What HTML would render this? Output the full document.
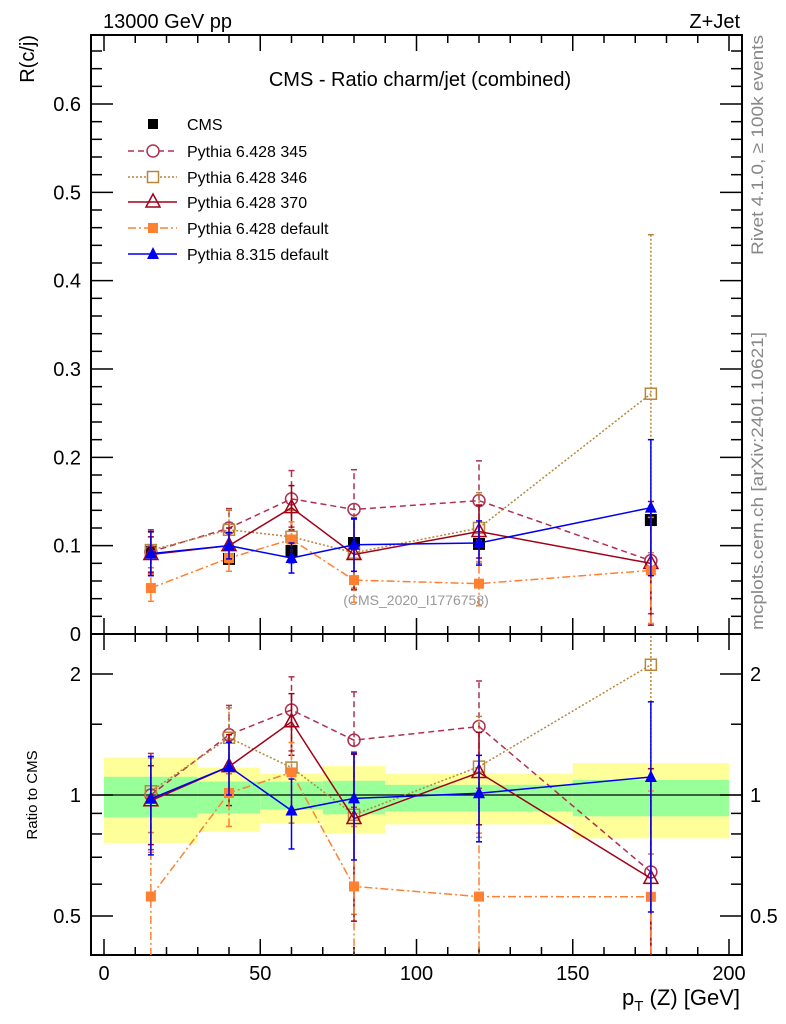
<!DOCTYPE html>
<html><head><meta charset="utf-8"><style>
html,body{margin:0;padding:0;background:#fff;width:786px;height:1024px;overflow:hidden}
svg{display:block;font-family:"Liberation Sans",sans-serif}
</style></head><body>
<svg id="c" width="786" height="1024" viewBox="0 0 786 1024" xmlns="http://www.w3.org/2000/svg">
<defs>
<clipPath id="cu"><rect x="91" y="35" width="651" height="599"/></clipPath>
<clipPath id="cr"><rect x="91" y="634" width="651" height="321"/></clipPath>
</defs>
<g id="bands" clip-path="url(#cr)"></g>
<g id="axes"></g>
<g id="series"></g>
<text x="103" y="28" font-size="20">13000 GeV pp</text>
<text x="740" y="28" font-size="20" text-anchor="end">Z+Jet</text>
<text x="420" y="86" font-size="20" text-anchor="middle">CMS - Ratio charm/jet (combined)</text>
<text x="416" y="605" font-size="14" fill="#999" text-anchor="middle">(CMS_2020_I1776758)</text>
<text transform="translate(34,35) rotate(-90)" font-size="20" text-anchor="end">R(c/j)</text>
<text transform="translate(37,795) rotate(-90)" font-size="15" text-anchor="middle">Ratio to CMS</text>
<text transform="translate(763,35) rotate(-90)" font-size="17" fill="#888" text-anchor="end" textLength="220" lengthAdjust="spacingAndGlyphs">Rivet 4.1.0, ≥ 100k events</text>
<text transform="translate(763,630) rotate(-90)" font-size="17" fill="#888" text-anchor="start" textLength="298" lengthAdjust="spacingAndGlyphs">mcplots.cern.ch [arXiv:2401.10621]</text>
<text x="740" y="1005" font-size="22" text-anchor="end">p<tspan font-size="15" dy="6">T</tspan><tspan dy="-6"> (Z) [GeV]</tspan></text>
<g id="legend"></g>
</svg>
<script>
const xs=[15,40,60,80,120,175];
const cms=[0.093,0.085,0.094,0.103,0.102,0.129];
const p345=[0.093,0.120,0.153,0.141,0.151,0.083];
const e345=[0.025,0.022,0.032,0.045,0.045,0.06];
const p346=[0.095,0.118,0.110,0.092,0.120,0.272];
const e346=[0.02,0.022,0.03,0.04,0.04,0.18];
const p370=[0.090,0.100,0.143,0.090,0.116,0.080];
const e370=[0.02,0.02,0.025,0.04,0.03,0.07];
const pdef=[0.052,0.086,0.107,0.061,0.057,0.072];
const edef=[0.015,0.015,0.02,0.025,0.025,0.06];
const p8=[0.091,0.100,0.086,0.101,0.103,0.143];
const e8=[0.025,0.015,0.017,0.03,0.025,0.077];
const binLo=[0,30,50,70,90,150];
const binHi=[30,50,70,90,150,200];
const statUp=[1.11,1.08,1.08,1.085,1.06,1.09];
const statDn=[0.88,0.90,0.92,0.895,0.91,0.885];
const totUp=[1.24,1.17,1.13,1.18,1.13,1.20];
const totDn=[0.76,0.81,0.85,0.80,0.845,0.78];
const yTicks=[0,0.1,0.2,0.3,0.4,0.5,0.6];
const xTicks=[0,50,100,150,200];
const rTicks=[0.5,1,2];

const NS="http://www.w3.org/2000/svg";
const X=v=>104+v*3.125;
const Y=v=>634-v*883.33;
const R=v=>795-Math.log2(v)*121;
function mk(p,t,a){const e=document.createElementNS(NS,t);for(const k in a)e.setAttribute(k,a[k]);p.appendChild(e);return e;}
const axes=document.getElementById('axes'),bands=document.getElementById('bands'),ser=document.getElementById('series'),leg=document.getElementById('legend');

for(let i=0;i<binLo.length;i++){
  const y=mk(bands,'rect',{x:X(binLo[i]),y:R(totUp[i]),width:X(binHi[i])-X(binLo[i]),height:R(totDn[i])-R(totUp[i]),fill:'#ffff99'});
  
  
  const g=mk(bands,'rect',{x:X(binLo[i]),y:R(statUp[i]),width:X(binHi[i])-X(binLo[i]),height:R(statDn[i])-R(statUp[i]),fill:'#99ff99'});
  
  
}
mk(bands,'line',{x1:91,x2:742,y1:R(1),y2:R(1),stroke:'#000','stroke-width':1.2});

mk(axes,'rect',{x:91,y:35,width:651,height:599,fill:'none',stroke:'#000','stroke-width':2});
mk(axes,'rect',{x:91,y:634,width:651,height:321,fill:'none',stroke:'#000','stroke-width':2});
const tk=(x1,y1,x2,y2)=>mk(axes,'line',{x1,y1,x2,y2,stroke:'#000','stroke-width':1.5});
for(let v=0;v<=200;v+=10){const maj=v%50==0;const L=maj?16:8;
  [[35,1],[634,-1],[634,1],[955,-1]].forEach(([y,d])=>tk(X(v),y,X(v),y+d*L));}
xTicks.forEach(v=>{const t=mk(axes,'text',{x:X(v),y:980,'font-size':20,'text-anchor':'middle'});t.textContent=v;
  
  });
for(let i=0;i<=34;i++){const v=i*0.02;const y=Y(v);if(y<35)continue;const maj=i%5==0;const L=maj?22:11;
  tk(91,y,91+L,y);tk(742,y,742-L,y);}
yTicks.forEach(v=>{const t=mk(axes,'text',{x:81,y:Y(v)+7,'font-size':20,'text-anchor':'end'});t.textContent=v===0?'0':v.toFixed(1);
  
  });
[0.4,0.5,0.6,0.7,0.8,0.9,1,2].forEach(v=>{const y=R(v);const maj=rTicks.includes(v);const L=maj?22:11;tk(91,y,91+L,y);tk(742,y,742-L,y);});
[1.5].forEach(v=>{const y=R(v);tk(91,y,102,y);tk(742,y,731,y);});
rTicks.forEach(v=>{[[81,'end'],[750,'start']].forEach(([x,a])=>{const t=mk(axes,'text',{x,y:R(v)+7,'font-size':20,'text-anchor':a});t.textContent=v;
  
  });});

function marker(p,type,x,y,col){
  if(type=='sqF')return mk(p,'rect',{x:x-5,y:y-5,width:10,height:10,fill:col});
  if(type=='sqO')return mk(p,'rect',{x:x-5.5,y:y-5.5,width:11,height:11,fill:'#fff','fill-opacity':0,stroke:col,'stroke-width':1.5});
  if(type=='circ')return mk(p,'circle',{cx:x,cy:y,r:6,fill:'none',stroke:col,'stroke-width':1.5});
  if(type=='triO')return mk(p,'path',{d:`M${x} ${y-8}L${x+7} ${y+5}L${x-7} ${y+5}Z`,fill:'none',stroke:col,'stroke-width':1.5});
  if(type=='triF')return mk(p,'path',{d:`M${x} ${y-7}L${x+6} ${y+5}L${x-6} ${y+5}Z`,fill:col});
}
const models=[
 {name:'pythia-6428-345',label:'Pythia 6.428 345',v:p345,e:e345,col:'#b03050',dash:'6,4',m:'circ'},
 {name:'pythia-6428-346',label:'Pythia 6.428 346',v:p346,e:e346,col:'#b8863b',dash:'2,2',m:'sqO'},
 {name:'pythia-6428-370',label:'Pythia 6.428 370',v:p370,e:e370,col:'#a00018',dash:'',m:'triO'},
 {name:'pythia-6428-default',label:'Pythia 6.428 default',v:pdef,e:edef,col:'#ff8030',dash:'8,3,2,3',m:'sqF'},
 {name:'pythia-8315-default',label:'Pythia 8.315 default',v:p8,e:e8,col:'#0000ee',dash:'',m:'triF'}];

function drawSeries(clip,vals,errs,ysc,m,panel){
  const g=mk(ser,'g',{'clip-path':`url(#${clip})`});
  
  
  const pts=xs.map((x,i)=>X(x)+','+ysc(vals[i])).join(' ');
  const pl=mk(g,'polyline',{points:pts,fill:'none',stroke:m.col,'stroke-width':1.5,'stroke-dasharray':m.dash});
  
  
  xs.forEach((x,i)=>{
    const lo=Math.max(vals[i]-errs[i],1e-3),hi=vals[i]+errs[i];
    const eb=mk(g,'line',{x1:X(x),x2:X(x),y1:ysc(lo),y2:ysc(hi),stroke:m.col,'stroke-width':1.5,'stroke-dasharray':m.dash});
    
    
    [lo,hi].forEach(v=>mk(g,'line',{x1:X(x)-3,x2:X(x)+3,y1:ysc(v),y2:ysc(v),stroke:m.col,'stroke-width':1.5}));
    const mm=marker(g,m.m,X(x),ysc(vals[i]),m.col);
    
    
  });
}
const cg=mk(ser,'g',{});


xs.forEach((x,i)=>{const r=marker(cg,'sqF',X(x),Y(cms[i]),'#000');r.setAttribute('width',12);r.setAttribute('height',12);r.setAttribute('x',X(x)-6);r.setAttribute('y',Y(cms[i])-6);
  
  });
models.forEach(m=>{
  drawSeries('cu',m.v,m.e,Y,m,'main');
  drawSeries('cr',m.v.map((v,i)=>v/cms[i]),m.e.map((v,i)=>v/cms[i]),R,m,'ratio');
});
const ly=[124,151,177,202,228,254];
{const r=mk(leg,'rect',{x:148,y:ly[0]-5,width:10,height:10,fill:'#000'});
 
 const t=mk(leg,'text',{x:187,y:ly[0]+6,'font-size':16});t.textContent='CMS';
 }
models.forEach((m,i)=>{const y=ly[i+1];
  const l=mk(leg,'line',{x1:128,x2:177,y1:y,y2:y,stroke:m.col,'stroke-width':1.5,'stroke-dasharray':m.dash});
  
  
  const mm=marker(leg,m.m,153,y,m.col);
  if(m.m=='sqO'||m.m=='circ'){mm.setAttribute('fill','#fff');mm.setAttribute('fill-opacity',1);}
  
  
  const t=mk(leg,'text',{x:187,y:y+6,'font-size':16});t.textContent=m.label;
  
  
});
</script>
</body></html>
